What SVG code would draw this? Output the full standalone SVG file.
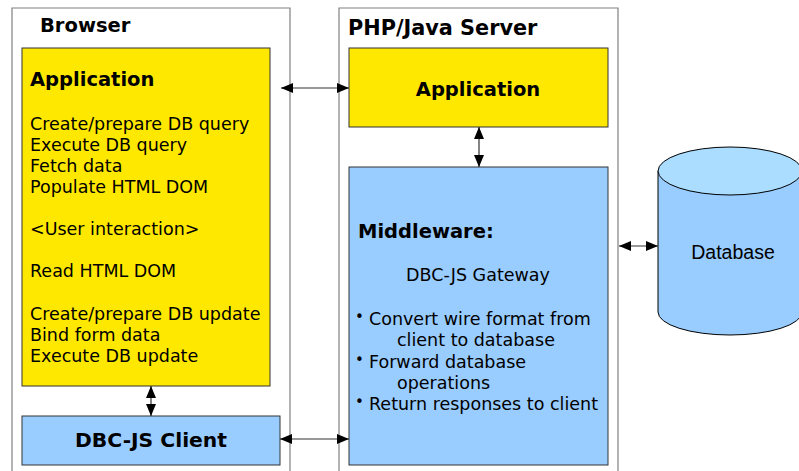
<svg xmlns="http://www.w3.org/2000/svg" width="799" height="471" viewBox="0 0 799 471">
<defs>
<marker id="ah" markerWidth="12" markerHeight="10" refX="12" refY="5" orient="auto-start-reverse" markerUnits="userSpaceOnUse">
<path d="M0,0 L12,5 L0,10 Z" fill="#000"/>
</marker>
<style>
.frame{fill:#fff;stroke:#808080;stroke-width:1.2}
.yel{fill:#FFE800;stroke:#333;stroke-width:1}
.blu{fill:#99CCFF;stroke:#333;stroke-width:1}
.h{font-family:"DejaVu Sans",Verdana,sans-serif;font-weight:bold;font-size:19.5px;fill:#000}
.t{font-family:"DejaVu Sans",Verdana,sans-serif;font-size:17.5px;fill:#000}
.b{font-family:"DejaVu Sans",Verdana,sans-serif;font-size:15px;fill:#000}
.c{stroke:#333;stroke-width:1.2;fill:none;marker-start:url(#ah);marker-end:url(#ah)}
</style>
</defs>
<rect width="799" height="471" fill="#fff"/>
<g id="browser">
<path class="frame" d="M12,472 V8 H290 V472"/>
<text class="h" x="40" y="32">Browser</text>
</g>
<g id="server">
<path class="frame" d="M339,472 V8 H618 V472"/>
<text class="h" x="348" y="35" style="font-size:20.8px">PHP/Java Server</text>
</g>
<g id="browser-app">
<rect class="yel" x="22" y="48" width="248" height="338"/>
<text class="h" x="30" y="86">Application</text>
<text class="t" x="30" y="130">Create/prepare DB query</text>
<text class="t" x="30" y="151">Execute DB query</text>
<text class="t" x="30" y="172">Fetch data</text>
<text class="t" x="30" y="193">Populate HTML DOM</text>
<text class="t" x="30" y="235">&lt;User interaction&gt;</text>
<text class="t" x="30" y="277">Read HTML DOM</text>
<text class="t" x="30" y="320">Create/prepare DB update</text>
<text class="t" x="30" y="341">Bind form data</text>
<text class="t" x="30" y="362">Execute DB update</text>
</g>
<g id="client">
<rect class="blu" x="22" y="416" width="258" height="49"/>
<text class="h" x="151" y="447" text-anchor="middle" style="font-size:20.3px">DBC-JS Client</text>
</g>
<g id="server-app">
<rect class="yel" x="349" y="48" width="259" height="79"/>
<text class="h" x="478" y="96" text-anchor="middle">Application</text>
</g>
<g id="middleware">
<rect class="blu" x="349" y="167" width="259" height="298"/>
<text class="h" x="358" y="238">Middleware:</text>
<text class="t" x="478" y="281" text-anchor="middle">DBC-JS Gateway</text>
<text class="b" x="355" y="322">•</text>
<text class="t" x="369" y="325">Convert wire format from</text>
<text class="t" x="397" y="346">client to database</text>
<text class="b" x="355" y="365">•</text>
<text class="t" x="369" y="368">Forward database</text>
<text class="t" x="397" y="389">operations</text>
<text class="b" x="355" y="407">•</text>
<text class="t" x="369" y="410">Return responses to client</text>
</g>
<g id="database">
<path d="M658,171 V312 A72,23 0 0 0 802,312 V171 Z" fill="#99CCFF" stroke="#000" stroke-width="1"/>
<ellipse cx="730" cy="171" rx="72" ry="24" fill="#AADDFF" stroke="#000" stroke-width="1"/>
<text x="733" y="259" text-anchor="middle" font-family="'Liberation Sans',Arial,sans-serif" font-size="19.5">Database</text>
</g>
<g id="connectors">
<line class="c" x1="281" y1="88" x2="349" y2="88"/>
<line class="c" x1="479" y1="127" x2="479" y2="167"/>
<line class="c" x1="151" y1="386" x2="151" y2="416"/>
<line class="c" x1="280" y1="439" x2="349" y2="439"/>
<line class="c" x1="619" y1="246" x2="658" y2="246"/>
</g>
</svg>
